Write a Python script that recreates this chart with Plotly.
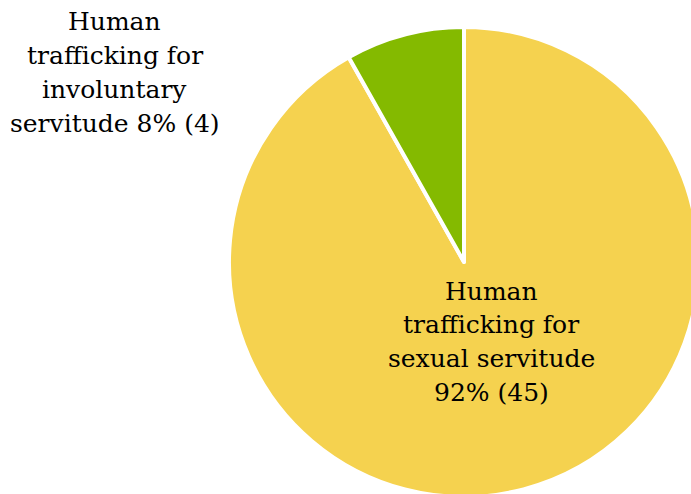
import plotly.graph_objects as go

# Case counts by type of human trafficking
categories = ["Human trafficking for sexual servitude",
              "Human trafficking for involuntary servitude"]
counts = [45, 4]
colors = ["#F5D24F", "#84BA00"]

# Label line breaks for each category
label_lines = [
    ["Human", "trafficking for", "sexual servitude", "{pct}% ({n})"],
    ["Human", "trafficking for", "involuntary", "servitude {pct}% ({n})"],
]

W, H = 720, 520            # canvas is larger than the view so the pie runs off the edge
cx, cy, r = 464, 262, 235  # pie centre and radius in pixels

fig = go.Figure(go.Pie(
    labels=categories,
    values=counts,
    sort=False,
    direction="clockwise",
    rotation=0,
    marker=dict(colors=colors, line=dict(color="white", width=4)),
    textinfo="none",
    hoverinfo="label+value+percent",
    showlegend=False,
    domain=dict(x=[(cx - r) / W, (cx + r) / W],
                y=[1 - (cy + r) / H, 1 - (cy - r) / H]),
))

total = sum(counts)
label_pos = [(491, 291), (115, 22)]  # centre x, first-line y (pixels)
line_gap = 33.7

annotations = []
for lines, n, (lx, ly) in zip(label_lines, counts, label_pos):
    pct = round(100 * n / total)
    for i, line in enumerate(lines):
        annotations.append(dict(
            text=line.format(pct=pct, n=n),
            x=lx / W, y=1 - (ly + i * line_gap) / H,
            xref="paper", yref="paper",
            xanchor="center", yanchor="middle",
            showarrow=False,
            font=dict(family="DejaVu Serif", size=25, color="#000000"),
        ))

fig.update_layout(
    width=W, height=H,
    margin=dict(l=0, r=0, t=0, b=0),
    paper_bgcolor="white",
    plot_bgcolor="white",
    annotations=annotations,
)

fig.write_html(
    "out.html",
    post_script="document.documentElement.style.overflow='hidden';"
                "document.body.style.overflow='hidden';"
                "document.body.style.margin='0';",
)
